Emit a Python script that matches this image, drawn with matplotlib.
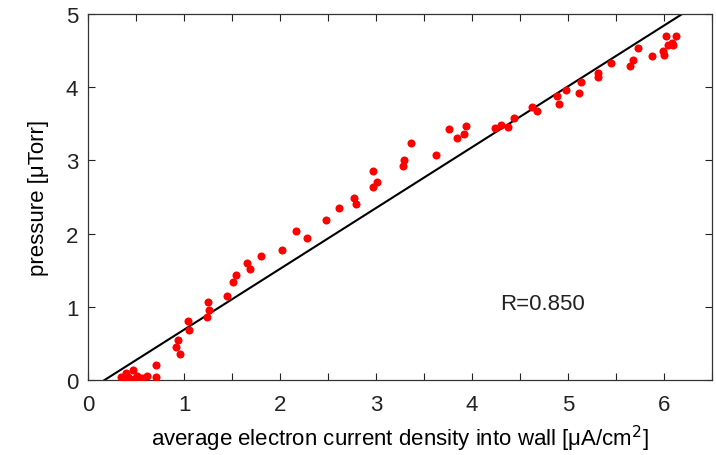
import matplotlib
matplotlib.use("Agg")
import matplotlib.pyplot as plt
import numpy as np

# measured points (current density, pressure)
current = [0.34, 0.37, 0.40, 0.42, 0.47, 0.48, 0.51, 0.56, 0.61, 0.71, 0.71,
           0.92, 0.94, 0.955, 1.045, 1.05, 1.25, 1.26, 1.24, 1.45, 1.51, 1.54,
           1.66, 1.69, 1.805, 2.02, 2.17, 2.28, 2.48, 2.61, 2.77, 2.79,
           2.97, 3.01, 2.97, 3.29, 3.28, 3.36, 3.62, 3.76, 3.84, 3.92, 3.94,
           4.24, 4.30, 4.38, 4.44, 4.62, 4.68, 4.89, 4.91, 4.98, 5.11, 5.14,
           5.31, 5.31, 5.45, 5.65, 5.68, 5.725, 5.88, 5.985, 6.005, 6.02,
           6.04, 6.08, 6.09, 6.12]
pressure = [0.04, 0.02, 0.10, 0.04, 0.14, 0.02, 0.06, 0.03, 0.06, 0.21, 0.04,
            0.45, 0.54, 0.36, 0.80, 0.68, 1.06, 0.96, 0.86, 1.15, 1.34, 1.44,
            1.60, 1.52, 1.70, 1.78, 2.04, 1.94, 2.19, 2.35, 2.49, 2.41,
            2.85, 2.71, 2.64, 3.01, 2.93, 3.24, 3.07, 3.43, 3.30, 3.36, 3.47,
            3.44, 3.49, 3.45, 3.58, 3.73, 3.68, 3.88, 3.77, 3.96, 3.92, 4.07,
            4.20, 4.14, 4.33, 4.29, 4.37, 4.53, 4.43, 4.49, 4.44, 4.70,
            4.58, 4.60, 4.58, 4.70]

# fitted line: p = slope * (j - x0)
fit_x = [0.0, 6.5]
fit_slope = 0.831
fit_x0 = 0.173
r_label = "R=0.850"

plt.rcParams['font.family'] = ['Liberation Sans', 'DejaVu Sans']
fs = 16

fig = plt.figure(figsize=(7.16, 4.56), dpi=100)
ax = fig.add_axes([88/716, 1 - 381/456, 624/716, 366/456])

xs = np.array(fit_x)
ax.plot(xs, fit_slope * (xs - fit_x0), color='black', lw=1.5, zorder=2)
ax.plot(current, pressure, 'o', color='#ff0000', ms=5.8, mec='none', zorder=3)

ax.text(4.29, 1.04, r_label, fontsize=fs, ha='left', va='center', color='#222222')

ax.set_xlim(0, 6.5)
ax.set_ylim(0, 5)
xt = np.arange(0, 6.51, 0.5)
ax.set_xticks(xt)
ax.set_xticklabels([str(int(v)) if v == int(v) else '' for v in xt])
ax.set_yticks(range(0, 6))
ax.tick_params(direction='in', top=True, right=True, length=5, width=0.8,
               labelsize=fs, colors='#222222')
ax.tick_params(axis='y', pad=7)
ax.tick_params(axis='x', pad=10)

ax.set_xlabel("average electron current density into wall [\u03bcA/cm$^2$]", fontsize=fs, labelpad=6)
ax.set_ylabel("pressure [\u03bcTorr]", fontsize=fs, labelpad=12)

for s in ax.spines.values():
    s.set_linewidth(0.9)
    s.set_color('#333333')

fig.savefig("out.png", dpi=100, facecolor='white')
